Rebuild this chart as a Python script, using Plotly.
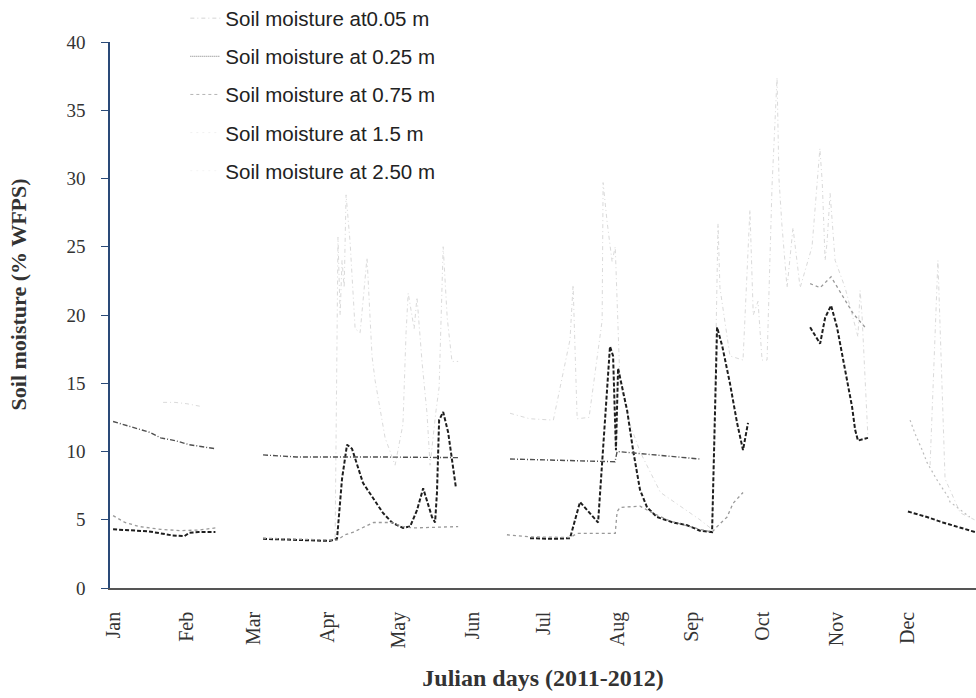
import plotly.graph_objects as go

# ---- data (x = day of year, 0 = 1 Jan; None = gap) ----
month_days = [0, 31, 59, 90, 120, 151, 181, 212, 243, 273, 304, 334]
month_labels = ["Jan", "Feb", "Mar", "Apr", "May", "Jun", "Jul", "Aug", "Sep", "Oct", "Nov", "Dec"]

names = ["Soil moisture at0.05 m", "Soil moisture at 0.25 m", "Soil moisture at 0.75 m",
         "Soil moisture at 1.5 m", "Soil moisture at 2.50 m"]

d005 = [21, 26, 31, 37, None,
        93.3, 94.5, 95.4, 96.2, 97.1, 97.9, 99.6, 101.7, 103.8, 105.5, 106.7, 108.8, 110.1, 114.3, 118.5,
        121.8, 123.1, 124, 126.5, 127.7, 129.8, 131.9, 133.2, 135.7, 137, 138.7, 140.4, 142.4, 145, None,
        166.8, 175, 185, 192, 193.3, 195, 200, 205.5, 205.9, 207.6, 209.7, 211, 213, 217.2, 221.4, 230,
        246.6, 251.7, 253, 254.2, 255, 259.2, 264.7, 267.6, 269, 271, 272.7, 274.8, 276.9, 278, 279, 279.8,
        281, 283.2, 285.7, 288.7, 292, 293.7, 297, 298, 299.2, 300, 301.3, 303.4, 307.6, 313, 313.9, 314.7,
        317.2, None,
        343.3, 346.6, 349.6, 356, 362]
v005 = [13.6, 13.6, 13.5, 13.3, None,
        3.7, 25.7, 20, 24, 22, 28.8, 25.3, 19, 18.7, 22.3, 24.2, 17, 15.2, 11, 9,
        12, 18.7, 21.6, 19, 21.3, 16.6, 12.8, 9, 13, 14.7, 25, 19.8, 16.6, 16.6, None,
        12.8, 12.4, 12.3, 18.2, 22.2, 12.4, 12.5, 19.6, 29.7, 26.8, 23.9, 25, 15, 12, 10, 7,
        5, 4.3, 15, 26.7, 22, 17, 16.7, 27.7, 20, 21, 16.7, 16.7, 29.5, 33.3, 37.4, 30,
        26.7, 22, 26.4, 22, 24, 25, 32.2, 29.7, 24, 25.3, 28.9, 24, 22, 18.4, 21.8, 20,
        11, None,
        9, 24, 8, 5.5, 5]

d025 = [0, 7, 15, 20, 25, 30, 32, 36, 43, None,
        63, 74, 83, 91, 94.1, 96.2, 98.3, 100.4, 105, 108.8, 112.2, 113.4, 117.2, 121.8, 124.8, 127.7,
        130.3, 131.9, 134, 135.3, 136.1, 137, 138.7, 140.8, 142.4, 144.1, None,
        175.2, 185, 192, 196.2, 203.8, 208.8, 210.1, 211.3, 212.2, 216, 218.5, 221.4, 224.4, 228.6,
        235.3, 241.2, 246.6, 251.7, 253.8, 256, 259.2, 262.2, 264.7, 266.8, None,
        292.9, 297.1, 299.2, 301.7, 304.2, 306.3, 308.4, 310.5, 311.8, 313, 317.2, None,
        334, 342, 348.7, 355.9, 362.2]
v025 = [4.3, 4.25, 4.15, 4.0, 3.85, 3.8, 4.05, 4.1, 4.1, None,
        3.6, 3.55, 3.5, 3.45, 3.6, 8.0, 10.5, 10.2, 7.7, 6.7, 5.9, 5.5, 4.8, 4.4, 4.5, 5.7,
        7.3, 6.4, 5.2, 4.8, 7.0, 12.3, 12.9, 11.4, 9.4, 7.3, None,
        3.65, 3.6, 3.65, 6.3, 4.8, 17.7, 17.0, 10.1, 16.1, 13.0, 10.1, 7.2, 5.9, 5.2,
        4.8, 4.6, 4.2, 4.1, 19.1, 17.7, 15.0, 12.1, 10.1, 12.1, None,
        19.1, 17.9, 19.8, 20.7, 19.1, 17.2, 15.2, 13.3, 11.6, 10.8, 11.0, None,
        5.6, 5.2, 4.8, 4.4, 4.1]

d075 = [0, 5, 11, 20, 28, 36, 43, None,
        63, 80, 94, 97.5, 101, 109.5, 116.8, 121.8, 126, 145, None,
        165.5, 175, 192, 195, 211, 211.8, 213, 221.4, 225.6, 234, 246.6, 251.7, 253.8, 258, 260.5, 264.7, None,
        292.9, 297.1, 301.7, 306.7, 311, 316]
v075 = [5.3, 4.8, 4.5, 4.3, 4.2, 4.25, 4.4, None,
        3.65, 3.55, 3.5, 3.9, 4.1, 4.8, 4.8, 4.5, 4.4, 4.5, None,
        3.9, 3.75, 3.7, 4.0, 4.0, 5.6, 5.9, 6.0, 5.6, 4.9, 4.3, 4.1, 4.5, 5.2, 6.2, 7.0, None,
        22.3, 22.0, 22.8, 21.3, 20.1, 19.1]

d15 = [0, 15.5, 20, 26, 32, 41, 43, None,
       63, 77, 110, 145, None,
       166.8, 190, 210.9, 211.8, 225, 246.6]
v15 = [12.2, 11.4, 11.0, 10.8, 10.5, 10.3, 10.2, None,
       9.75, 9.6, 9.6, 9.55, None,
       9.45, 9.35, 9.25, 10.0, 9.8, 9.45]

d250 = [334.9, 337, 340, 342, 346.6, 350.8, 351.7, 360]
v250 = [12.3, 11.3, 10.1, 9.2, 7.8, 6.7, 6.3, 5.2]

y_title = "<b>Soil moisture (% WFPS)</b>"
x_title = "<b>Julian days (2011-2012)</b>"

fig = go.Figure()

series = [
    (d005, v005, dict(color="#dadada", width=1, dash="4px,3px,1px,3px")),
    (d025, v025, dict(color="#1e1e1e", width=2, dash="4px,2px")),
    (d075, v075, dict(color="#999999", width=1.3, dash="3px,3px")),
    (d15, v15, dict(color="#505050", width=1.4, dash="5px,2px,1px,2px")),
    (d250, v250, dict(color="#bdbdbd", width=1.2, dash="2px,3px")),
]
for (xs, ys, ln), nm in zip(series, names):
    fig.add_trace(go.Scatter(x=xs, y=ys, mode="lines", line=ln, name=nm,
                             showlegend=False, connectgaps=False, hoverinfo="skip"))

legend_styles = [
    dict(color="#d4d4d4", width=1, dash="4px,3px,1px,3px"),
    dict(color="#7a7a7a", width=1, dash="1px,1px"),
    dict(color="#b4b4b4", width=1, dash="3px,3px"),
    dict(color="#f0f0f0", width=1, dash="2px,4px"),
    dict(color="#f4f4f4", width=1, dash="2px,4px"),
]
for nm, ln in zip(names, legend_styles):
    fig.add_trace(go.Scatter(x=[None], y=[None], mode="lines", line=ln, name=nm,
                             legendgroup=nm, showlegend=True))

serif = "Liberation Serif, Times New Roman, serif"
fig.update_layout(
    width=976, height=698,
    margin=dict(l=110, r=0, t=42, b=110, autoexpand=False),
    paper_bgcolor="white", plot_bgcolor="white",
    showlegend=True,
    legend=dict(x=0.087, y=1.08, xanchor="left", yanchor="top",
                font=dict(family="Liberation Sans, Arial, sans-serif", size=20.5, color="#222"),
                bgcolor="rgba(0,0,0,0)", tracegroupgap=8.5, itemwidth=30),
    xaxis=dict(range=[-1.3, 362.6], tickmode="array", tickvals=month_days, ticktext=month_labels,
               tickangle=-90, showgrid=False, zeroline=False, showline=True, linecolor="#555",
               linewidth=1.5, ticks="", ticklabelstandoff=14,
               tickfont=dict(family=serif, size=20, color="#333"),
               title=dict(text=x_title, standoff=22,
                          font=dict(family=serif, size=24, color="#333"))),
    yaxis=dict(range=[0, 40], tickmode="array", tickvals=[0, 5, 10, 15, 20, 25, 30, 35, 40],
               showgrid=False, zeroline=False, showline=True, linecolor="#2a4a78", linewidth=1.5,
               ticks="outside", ticklen=7, tickcolor="#2a4a78", ticklabelstandoff=12,
               tickfont=dict(family=serif, size=19, color="#333")),
    annotations=[dict(text=y_title, textangle=-90, xref="paper", yref="paper",
                      x=-0.106, y=0.538, xanchor="center", yanchor="middle", showarrow=False,
                      font=dict(family=serif, size=22, color="#333"))],
)

fig.write_html("out.html")
